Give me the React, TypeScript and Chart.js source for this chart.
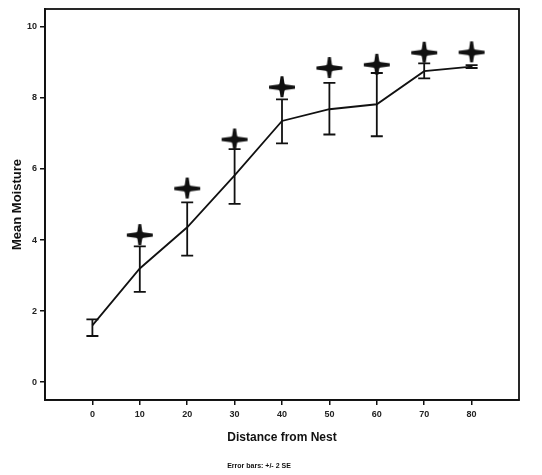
import React, { useEffect, useRef } from "react";
import { Chart, registerables } from "chart.js";

Chart.register(...registerables);

const distances = [0, 10, 20, 30, 40, 50, 60, 70, 80];
const meanMoisture = [1.6, 3.2, 4.36, 5.82, 7.35, 7.68, 7.82, 8.75, 8.88];
const errLow = [1.3, 2.54, 3.56, 5.02, 6.72, 6.97, 6.92, 8.55, 8.84];
const errHigh = [1.77, 3.82, 5.06, 6.56, 7.96, 8.42, 8.7, 8.97, 8.92];
const starValues: (number | null)[] = [null, 4.14, 5.45, 6.83, 8.3, 8.84, 8.93, 9.27, 9.28];
const xTickValues = [0, 10, 20, 30, 40, 50, 60, 70, 80];
const yTickValues = [0, 2, 4, 6, 8, 10];
const yTitle = "Mean Moisture";
const xTitle = "Distance from Nest";
const footerText = "Error bars: +/- 2 SE";

const FONT = "'Liberation Sans', Arial, sans-serif";

function makeStar(): HTMLCanvasElement {
  const c = document.createElement("canvas");
  c.width = 30;
  c.height = 26;
  const g = c.getContext("2d")!;
  g.translate(15, 13);
  g.fillStyle = "#111";
  // horizontal tapered arm
  g.beginPath();
  g.moveTo(-13, -1.4);
  g.lineTo(0, -3.2);
  g.lineTo(13, -1.4);
  g.lineTo(13, 1.4);
  g.lineTo(0, 3.2);
  g.lineTo(-13, 1.4);
  g.closePath();
  g.fill();
  // vertical tapered arm
  g.beginPath();
  g.moveTo(-1.4, -11);
  g.lineTo(-3, 0);
  g.lineTo(-1.4, 10);
  g.lineTo(1.4, 10);
  g.lineTo(3, 0);
  g.lineTo(1.4, -11);
  g.closePath();
  g.fill();
  // center body
  g.beginPath();
  g.arc(0, 0, 4.2, 0, Math.PI * 2);
  g.fill();
  return c;
}

export default function App() {
  const ref = useRef<HTMLCanvasElement>(null);

  useEffect(() => {
    if (!ref.current) return;
    const star = makeStar();

    const errorBars = {
      id: "errorBars",
      beforeDatasetsDraw(chart: any) {
        const { ctx, scales } = chart;
        const xs = scales.x;
        const ys = scales.y;
        ctx.save();
        ctx.strokeStyle = "#111";
        ctx.lineWidth = 1.8;
        distances.forEach((d, i) => {
          const x = xs.getPixelForValue(d);
          const y1 = ys.getPixelForValue(errLow[i]);
          const y2 = ys.getPixelForValue(errHigh[i]);
          ctx.beginPath();
          ctx.moveTo(x, y1);
          ctx.lineTo(x, y2);
          ctx.moveTo(x - 6, y1);
          ctx.lineTo(x + 6, y1);
          ctx.moveTo(x - 6, y2);
          ctx.lineTo(x + 6, y2);
          ctx.stroke();
        });
        ctx.restore();
      },
    };

    const frame = {
      id: "frame",
      afterDraw(chart: any) {
        const { ctx, chartArea } = chart;
        ctx.save();
        ctx.strokeStyle = "#111";
        ctx.lineWidth = 1.8;
        ctx.strokeRect(
          chartArea.left,
          chartArea.top,
          chartArea.right - chartArea.left,
          chartArea.bottom - chartArea.top
        );
        ctx.fillStyle = "#111";
        ctx.font = `bold 7px ${FONT}`;
        ctx.textAlign = "center";
        ctx.textBaseline = "middle";
        ctx.fillText(footerText, 259, 466);
        ctx.restore();
      },
    };

    const chart = new Chart(ref.current, {
      type: "line",
      data: {
        datasets: [
          {
            label: "Mean",
            data: distances.map((d, i) => ({ x: d, y: meanMoisture[i] })),
            borderColor: "#111",
            borderWidth: 1.8,
            pointRadius: 0,
            tension: 0,
            order: 2,
          },
          {
            label: "Star",
            data: distances
              .map((d, i) => ({ x: d, y: starValues[i] }))
              .filter((p) => p.y !== null) as any,
            showLine: false,
            pointStyle: star as any,
            pointRadius: 8,
            order: 1,
          },
        ],
      },
      options: {
        animation: false,
        responsive: false,
        layout: { padding: { top: 8, right: 23, bottom: 0, left: 0 } },
        plugins: {
          legend: { display: false },
          tooltip: { enabled: false },
        },
        scales: {
          x: {
            type: "linear",
            min: -10,
            max: 90,
            afterBuildTicks: (s: any) => {
              s.ticks = xTickValues.map((v) => ({ value: v }));
            },
            afterFit: (s: any) => {
              s.height = 75;
            },
            grid: {
              drawOnChartArea: false,
              drawTicks: true,
              tickLength: 5,
              color: "#111",
              lineWidth: 1.5,
            },
            border: { display: true, color: "#111", width: 1.8 },
            ticks: {
              color: "#222",
              padding: 4,
              maxRotation: 0,
              font: { family: FONT, size: 9, weight: "bold" },
            },
            title: {
              display: true,
              text: xTitle,
              color: "#111",
              font: { family: FONT, size: 12, weight: "bold" },
              padding: { top: 4, bottom: 30 },
            },
          },
          y: {
            type: "linear",
            min: -0.5,
            max: 10.5,
            afterBuildTicks: (s: any) => {
              s.ticks = yTickValues.map((v) => ({ value: v }));
            },
            afterFit: (s: any) => {
              s.width = 45;
            },
            grid: {
              drawOnChartArea: false,
              drawTicks: true,
              tickLength: 5,
              color: "#111",
              lineWidth: 1.5,
            },
            border: { display: true, color: "#111", width: 1.8 },
            ticks: {
              color: "#222",
              padding: 3,
              font: { family: FONT, size: 9, weight: "bold" },
            },
            title: {
              display: true,
              text: yTitle,
              color: "#111",
              font: { family: FONT, size: 13, weight: "bold" },
              padding: { top: 10, bottom: 0 },
            },
          },
        },
      },
      plugins: [errorBars, frame],
    });

    return () => chart.destroy();
  }, []);

  return (
    <div
      style={{
        position: "fixed",
        left: 0,
        top: 0,
        width: 542,
        height: 475,
        background: "#fff",
      }}
    >
      <canvas ref={ref} width={542} height={475} style={{ display: "block" }} />
    </div>
  );
}
